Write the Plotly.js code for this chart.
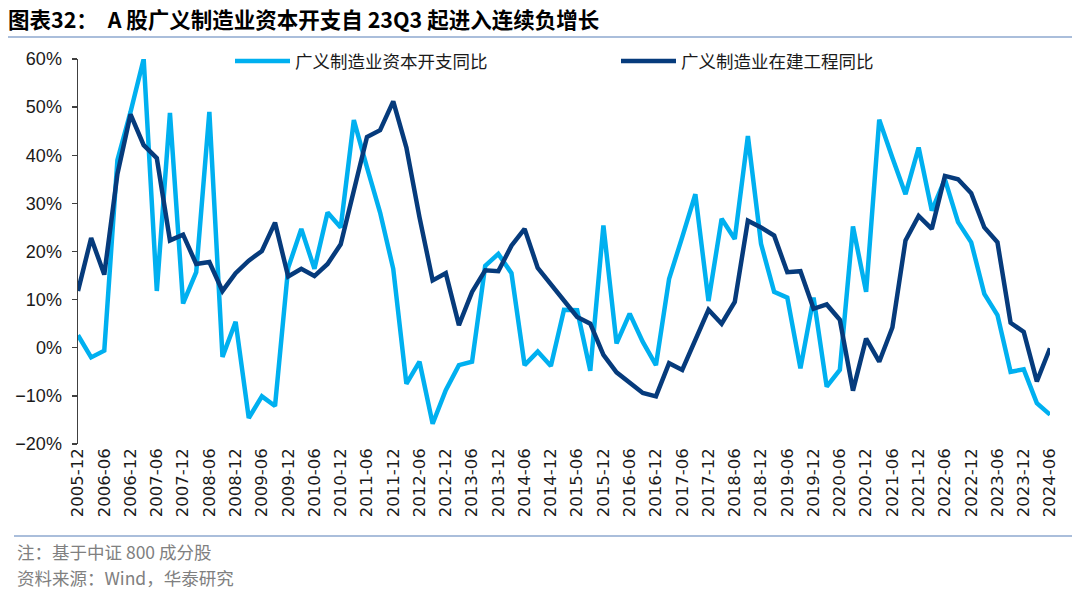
<!DOCTYPE html>
<html>
<head>
<meta charset="utf-8">
<script src="https://cdn.plot.ly/plotly-3.0.1.min.js"></script>
<style>
html,body{margin:0;padding:0;background:#fff;}
#chart{width:1080px;height:593px;}
</style>
</head>
<body>
<div id="chart"></div>
<script>
// Quarter labels
const quarters = [
  "2005-12","2006-03","2006-06","2006-09","2006-12","2007-03","2007-06","2007-09",
  "2007-12","2008-03","2008-06","2008-09","2008-12","2009-03","2009-06","2009-09",
  "2009-12","2010-03","2010-06","2010-09","2010-12","2011-03","2011-06","2011-09",
  "2011-12","2012-03","2012-06","2012-09","2012-12","2013-03","2013-06","2013-09",
  "2013-12","2014-03","2014-06","2014-09","2014-12","2015-03","2015-06","2015-09",
  "2015-12","2016-03","2016-06","2016-09","2016-12","2017-03","2017-06","2017-09",
  "2017-12","2018-03","2018-06","2018-09","2018-12","2019-03","2019-06","2019-09",
  "2019-12","2020-03","2020-06","2020-09","2020-12","2021-03","2021-06","2021-09",
  "2021-12","2022-03","2022-06","2022-09","2022-12","2023-03","2023-06","2023-09",
  "2023-12","2024-03","2024-06"
];

// 广义制造业资本开支同比 (%)
const capexYoY = [
  2.6, -2.0, -0.6, 39.0, 49.0, 60.0, 11.8, 48.8,
  9.2, 15.7, 49.0, -1.9, 5.4, -14.6, -10.1, -12.1,
  16.6, 24.7, 16.4, 28.1, 25.0, 47.3, 37.5, 28.1,
  16.4, -7.5, -2.9, -15.8, -8.8, -3.6, -2.9, 17.0,
  19.5, 15.5, -3.6, -0.8, -3.8, 7.9, 7.8, -4.8,
  25.4, 0.9, 7.1, 1.2, -3.6, 14.3, 23.0, 31.9,
  9.7, 26.8, 22.6, 44.0, 21.6, 11.6, 10.4, -4.3,
  10.4, -8.1, -4.6, 25.2, 11.6, 47.4, 39.5, 31.9,
  41.6, 28.5, 35.0, 26.1, 21.9, 11.2, 6.8, -5.0,
  -4.5, -11.5, -13.9
];

// 广义制造业在建工程同比 (%)
const cipYoY = [
  11.8, 22.8, 15.2, 36.1, 48.5, 42.1, 39.4, 22.3,
  23.5, 17.4, 17.8, 11.8, 15.5, 18.1, 20.1, 26.0,
  14.8, 16.4, 14.9, 17.4, 21.5, 32.5, 43.8, 45.2,
  51.2, 41.6, 27.1, 14.0, 15.5, 4.7, 11.6, 16.1,
  15.9, 21.2, 24.7, 16.6, 13.3, 9.8, 6.4, 5.0,
  -1.5, -5.1, -7.4, -9.4, -10.1, -3.2, -4.6, 1.6,
  7.9, 5.0, 9.5, 26.4, 25.0, 23.3, 15.7, 15.9,
  8.1, 9.0, 5.8, -8.9, 1.9, -2.9, 4.2, 22.3,
  27.4, 24.7, 35.7, 35.0, 32.1, 25.0, 21.9, 5.2,
  3.3, -7.0, -0.1
];

const seriesNames = ["广义制造业资本开支同比", "广义制造业在建工程同比"];
const titleText = "图表32：  A 股广义制造业资本开支自 23Q3 起进入连续负增长";
const noteText = "注：基于中证 800 成分股";
const sourceText = "资料来源：Wind，华泰研究";

const tickLabels = quarters.filter((q, i) => i % 2 === 0);

const yMin = -20, yMax = 60;
const zeroPos = (0 - yMin) / (yMax - yMin);

const traces = [
  {
    x: quarters, y: capexYoY, name: seriesNames[0], type: "scatter", mode: "lines",
    line: {color: "#00B0F0", width: 4.5}, legend: "legend"
  },
  {
    x: quarters, y: cipYoY, name: seriesNames[1], type: "scatter", mode: "lines",
    line: {color: "#063B7C", width: 4.5}, legend: "legend2"
  }
];

const cjk = '"Noto Sans CJK SC", "Noto Sans", sans-serif';
const legendFont = {family: cjk, size: 17.5, color: "#1a1a1a"};
const legY = (444 - 61) / 385;

const layout = {
  width: 1080, height: 593,
  margin: {l: 78, r: 30, t: 59, b: 149, pad: 0},
  paper_bgcolor: "#ffffff", plot_bgcolor: "#ffffff",
  showlegend: true,
  title: {
    text: "<b>" + titleText + "</b>",
    font: {family: cjk, size: 21.5, color: "#000000"},
    xref: "container", yref: "container",
    x: 8 / 1080, xanchor: "left",
    y: 1 - 20 / 593, yanchor: "middle"
  },
  legend: {
    orientation: "h",
    x: (230 - 78) / 972, xanchor: "left",
    y: legY, yanchor: "middle",
    bgcolor: "rgba(0,0,0,0)",
    font: legendFont, itemwidth: 55
  },
  legend2: {
    orientation: "h",
    x: (616 - 78) / 972, xanchor: "left",
    y: legY, yanchor: "middle",
    bgcolor: "rgba(0,0,0,0)",
    font: legendFont, itemwidth: 55
  },
  xaxis: {
    type: "category",
    range: [0, quarters.length - 1],
    tickmode: "array", tickvals: tickLabels, ticktext: tickLabels,
    tickangle: -90,
    tickfont: {family: "'DejaVu Sans', Arial, sans-serif", size: 16.5, color: "#1a1a1a"},
    showline: false, showgrid: false, zeroline: false, ticks: "",
    fixedrange: true
  },
  xaxis2: {
    overlaying: "x", anchor: "free", position: zeroPos,
    type: "linear", range: [0, quarters.length - 1],
    tick0: 0, dtick: 2,
    showline: true, linecolor: "#404040", linewidth: 1.5,
    ticks: "outside", ticklen: 5, tickwidth: 1.3, tickcolor: "#404040",
    showticklabels: false, showgrid: false, zeroline: false,
    fixedrange: true
  },
  yaxis: {
    range: [yMin, yMax], dtick: 10, tick0: 0,
    ticksuffix: "%",
    tickfont: {family: "Arial, 'Liberation Sans', sans-serif", size: 18, color: "#1a1a1a"},
    showline: true, linecolor: "#404040", linewidth: 1.5,
    ticks: "outside", ticklen: 5, tickwidth: 1.3, tickcolor: "#404040",
    ticklabelstandoff: 6,
    showgrid: false, zeroline: false,
    fixedrange: true
  },
  shapes: [
    {type: "line", xref: "paper", yref: "paper",
     x0: (8 - 78) / 972, x1: (1072 - 78) / 972,
     y0: (444 - 37) / 385, y1: (444 - 37) / 385,
     line: {color: "#8EA9CF", width: 1.5}},
    {type: "line", xref: "paper", yref: "paper",
     x0: (14 - 78) / 972, x1: (1072 - 78) / 972,
     y0: (444 - 536) / 385, y1: (444 - 536) / 385,
     line: {color: "#8EA9CF", width: 1.5}}
  ],
  annotations: [
    {text: noteText, xref: "paper", yref: "paper",
     x: (15 - 78) / 972, xanchor: "left",
     y: (444 - 551) / 385, yanchor: "middle",
     showarrow: false, font: {family: cjk, size: 17.5, color: "#808080"}},
    {text: sourceText, xref: "paper", yref: "paper",
     x: (15 - 78) / 972, xanchor: "left",
     y: (444 - 577) / 385, yanchor: "middle",
     showarrow: false, font: {family: cjk, size: 17.5, color: "#808080"}}
  ]
};

Plotly.newPlot("chart", traces, layout, {displayModeBar: false, staticPlot: true});
</script>
</body>
</html>
